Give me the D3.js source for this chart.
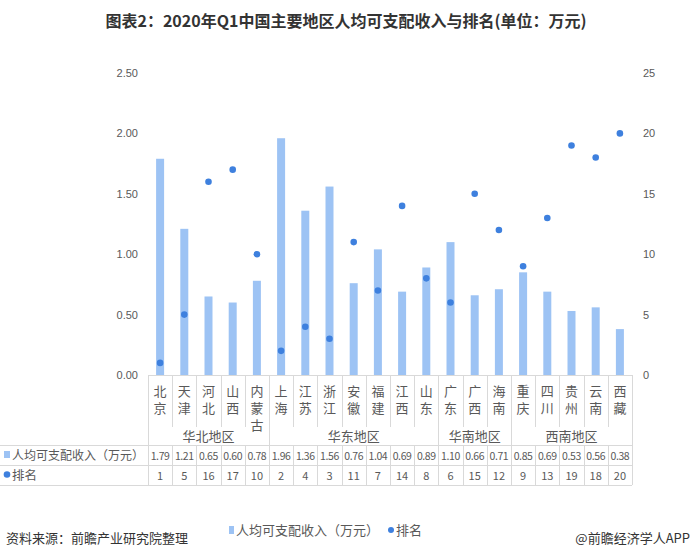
<!DOCTYPE html>
<html><head><meta charset="utf-8">
<script src="https://cdn.jsdelivr.net/npm/d3@7/dist/d3.min.js"></script>
<style>
body{margin:0;background:#fff;}
svg{display:block;font-family:"Noto Sans CJK SC","Microsoft YaHei",sans-serif;}
</style></head><body>
<svg id="chart" width="692" height="558"></svg>
<script>
const categories = ["北京","天津","河北","山西","内蒙古","上海","江苏","浙江","安徽","福建","江西","山东","广东","广西","海南","重庆","四川","贵州","云南","西藏"];
const income = [1.79,1.21,0.65,0.60,0.78,1.96,1.36,1.56,0.76,1.04,0.69,0.89,1.10,0.66,0.71,0.85,0.69,0.53,0.56,0.38];
const rank = [1,5,16,17,10,2,4,3,11,7,14,8,6,15,12,9,13,19,18,20];
const regions = [{name:"华北地区",count:5},{name:"华东地区",count:7},{name:"华南地区",count:3},{name:"西南地区",count:5}];
const leftTicks = [0,0.5,1,1.5,2,2.5];
const rightTicks = [0,5,10,15,20,25];
const seriesNames = ["人均可支配收入（万元）","排名"];

const barColor = "#9dc3f4", dotColor = "#3e80de", gridColor = "#d9d9d9", textColor = "#595959";
const svg = d3.select("#chart");
const L = 148, R = 632, T = 73, B = 375;

const x = d3.scaleBand().domain(categories).range([L,R]).padding(0);
const yL = d3.scaleLinear().domain([0,2.5]).range([B,T]);
const yR = d3.scaleLinear().domain([0,25]).range([B,T]);

// title
svg.append("text").attr("x",346).attr("y",27).attr("text-anchor","middle")
  .attr("font-size",16).attr("font-weight","bold").attr("fill","#333")
  .text("图表2：2020年Q1中国主要地区人均可支配收入与排名(单位：万元)");

// left axis
const gl = svg.append("g").attr("transform",`translate(${L},0)`)
  .call(d3.axisLeft(yL).tickValues(leftTicks).tickFormat(d3.format(".2f")).tickSize(0).tickPadding(10));
gl.select(".domain").remove();
gl.selectAll("text").attr("font-size",11).attr("fill",textColor);

// right axis
const gr = svg.append("g").attr("transform",`translate(${R},0)`)
  .call(d3.axisRight(yR).tickValues(rightTicks).tickSize(0).tickPadding(11));
gr.select(".domain").remove();
gr.selectAll("text").attr("font-size",11).attr("fill",textColor);

// bars
const bw = 8;
svg.append("g").selectAll("rect").data(categories).join("rect")
  .attr("x",d=>x(d)+x.bandwidth()/2-bw/2)
  .attr("y",(d,i)=>yL(income[i]))
  .attr("width",bw)
  .attr("height",(d,i)=>B-yL(income[i]))
  .attr("fill",barColor);

// dots
svg.append("g").selectAll("circle").data(categories).join("circle")
  .attr("cx",d=>x(d)+x.bandwidth()/2)
  .attr("cy",(d,i)=>yR(rank[i]))
  .attr("r",3.3)
  .attr("fill",dotColor);

// category axis lines
const g = svg.append("g").attr("stroke",gridColor).attr("stroke-width",1).attr("shape-rendering","crispEdges");
g.append("line").attr("x1",L).attr("x2",R).attr("y1",B+0.5).attr("y2",B+0.5);
let groupStarts = new Set([0]); let acc=0;
regions.forEach(r=>{acc+=r.count; groupStarts.add(acc);});
for(let i=0;i<=categories.length;i++){
  const xx = (i<categories.length? x(categories[i]) : R);
  const yEnd = groupStarts.has(i) ? 445 : 427;
  g.append("line").attr("x1",Math.round(xx)+0.5).attr("x2",Math.round(xx)+0.5).attr("y1",B).attr("y2",yEnd);
  g.append("line").attr("x1",Math.round(xx)+0.5).attr("x2",Math.round(xx)+0.5).attr("y1",445).attr("y2",485);
}
[445,465,485].forEach(yy=>{
  g.append("line").attr("x1",0).attr("x2",R).attr("y1",yy+0.5).attr("y2",yy+0.5);
});

// category labels (vertical writing)
categories.forEach((c,i)=>{
  const cx = x(c)+x.bandwidth()/2;
  svg.append("text").attr("x",cx).attr("y",385)
    .attr("writing-mode","vertical-rl")
    .style("text-orientation","upright")
    .attr("letter-spacing",3.6)
    .attr("font-size",13).attr("fill",textColor).text(c);
});

// region labels
let start=0;
regions.forEach(r=>{
  const x0 = x(categories[start]);
  const x1 = start+r.count<categories.length ? x(categories[start+r.count]) : R;
  svg.append("text").attr("x",(x0+x1)/2).attr("y",441).attr("text-anchor","middle")
    .attr("font-size",13).attr("fill",textColor).text(r.name);
  start+=r.count;
});

// table values
categories.forEach((c,i)=>{
  const cx = x(c)+x.bandwidth()/2;
  svg.append("text").attr("x",cx).attr("y",459.5).attr("text-anchor","middle")
    .attr("font-size",10.5).attr("fill",textColor).attr("letter-spacing",-0.4).text(income[i].toFixed(2));
  svg.append("text").attr("x",cx).attr("y",479.5).attr("text-anchor","middle")
    .attr("font-size",11).attr("fill",textColor).text(rank[i]);
});

// table row headers
svg.append("rect").attr("x",4).attr("y",451).attr("width",6).attr("height",7).attr("fill",barColor);
svg.append("text").attr("x",12).attr("y",459.5).attr("font-size",12).attr("fill",textColor).text(seriesNames[0]);
svg.append("circle").attr("cx",7).attr("cy",474.5).attr("r",3.3).attr("fill",dotColor);
svg.append("text").attr("x",12).attr("y",479.5).attr("font-size",12.5).attr("fill",textColor).text(seriesNames[1]);

// legend
svg.append("rect").attr("x",229).attr("y",526).attr("width",5).attr("height",8).attr("fill",barColor);
svg.append("text").attr("x",236).attr("y",535).attr("font-size",13).attr("fill",textColor).text(seriesNames[0]);
svg.append("circle").attr("cx",391).attr("cy",530).attr("r",3).attr("fill",dotColor);
svg.append("text").attr("x",396).attr("y",535).attr("font-size",13).attr("fill",textColor).text(seriesNames[1]);

// footer
svg.append("text").attr("x",6).attr("y",543).attr("font-size",13).attr("fill","#333").text("资料来源：前瞻产业研究院整理");
svg.append("text").attr("x",690).attr("y",543).attr("text-anchor","end").attr("font-size",13).attr("fill","#333").text("@前瞻经济学人APP");
</script>
</body></html>
